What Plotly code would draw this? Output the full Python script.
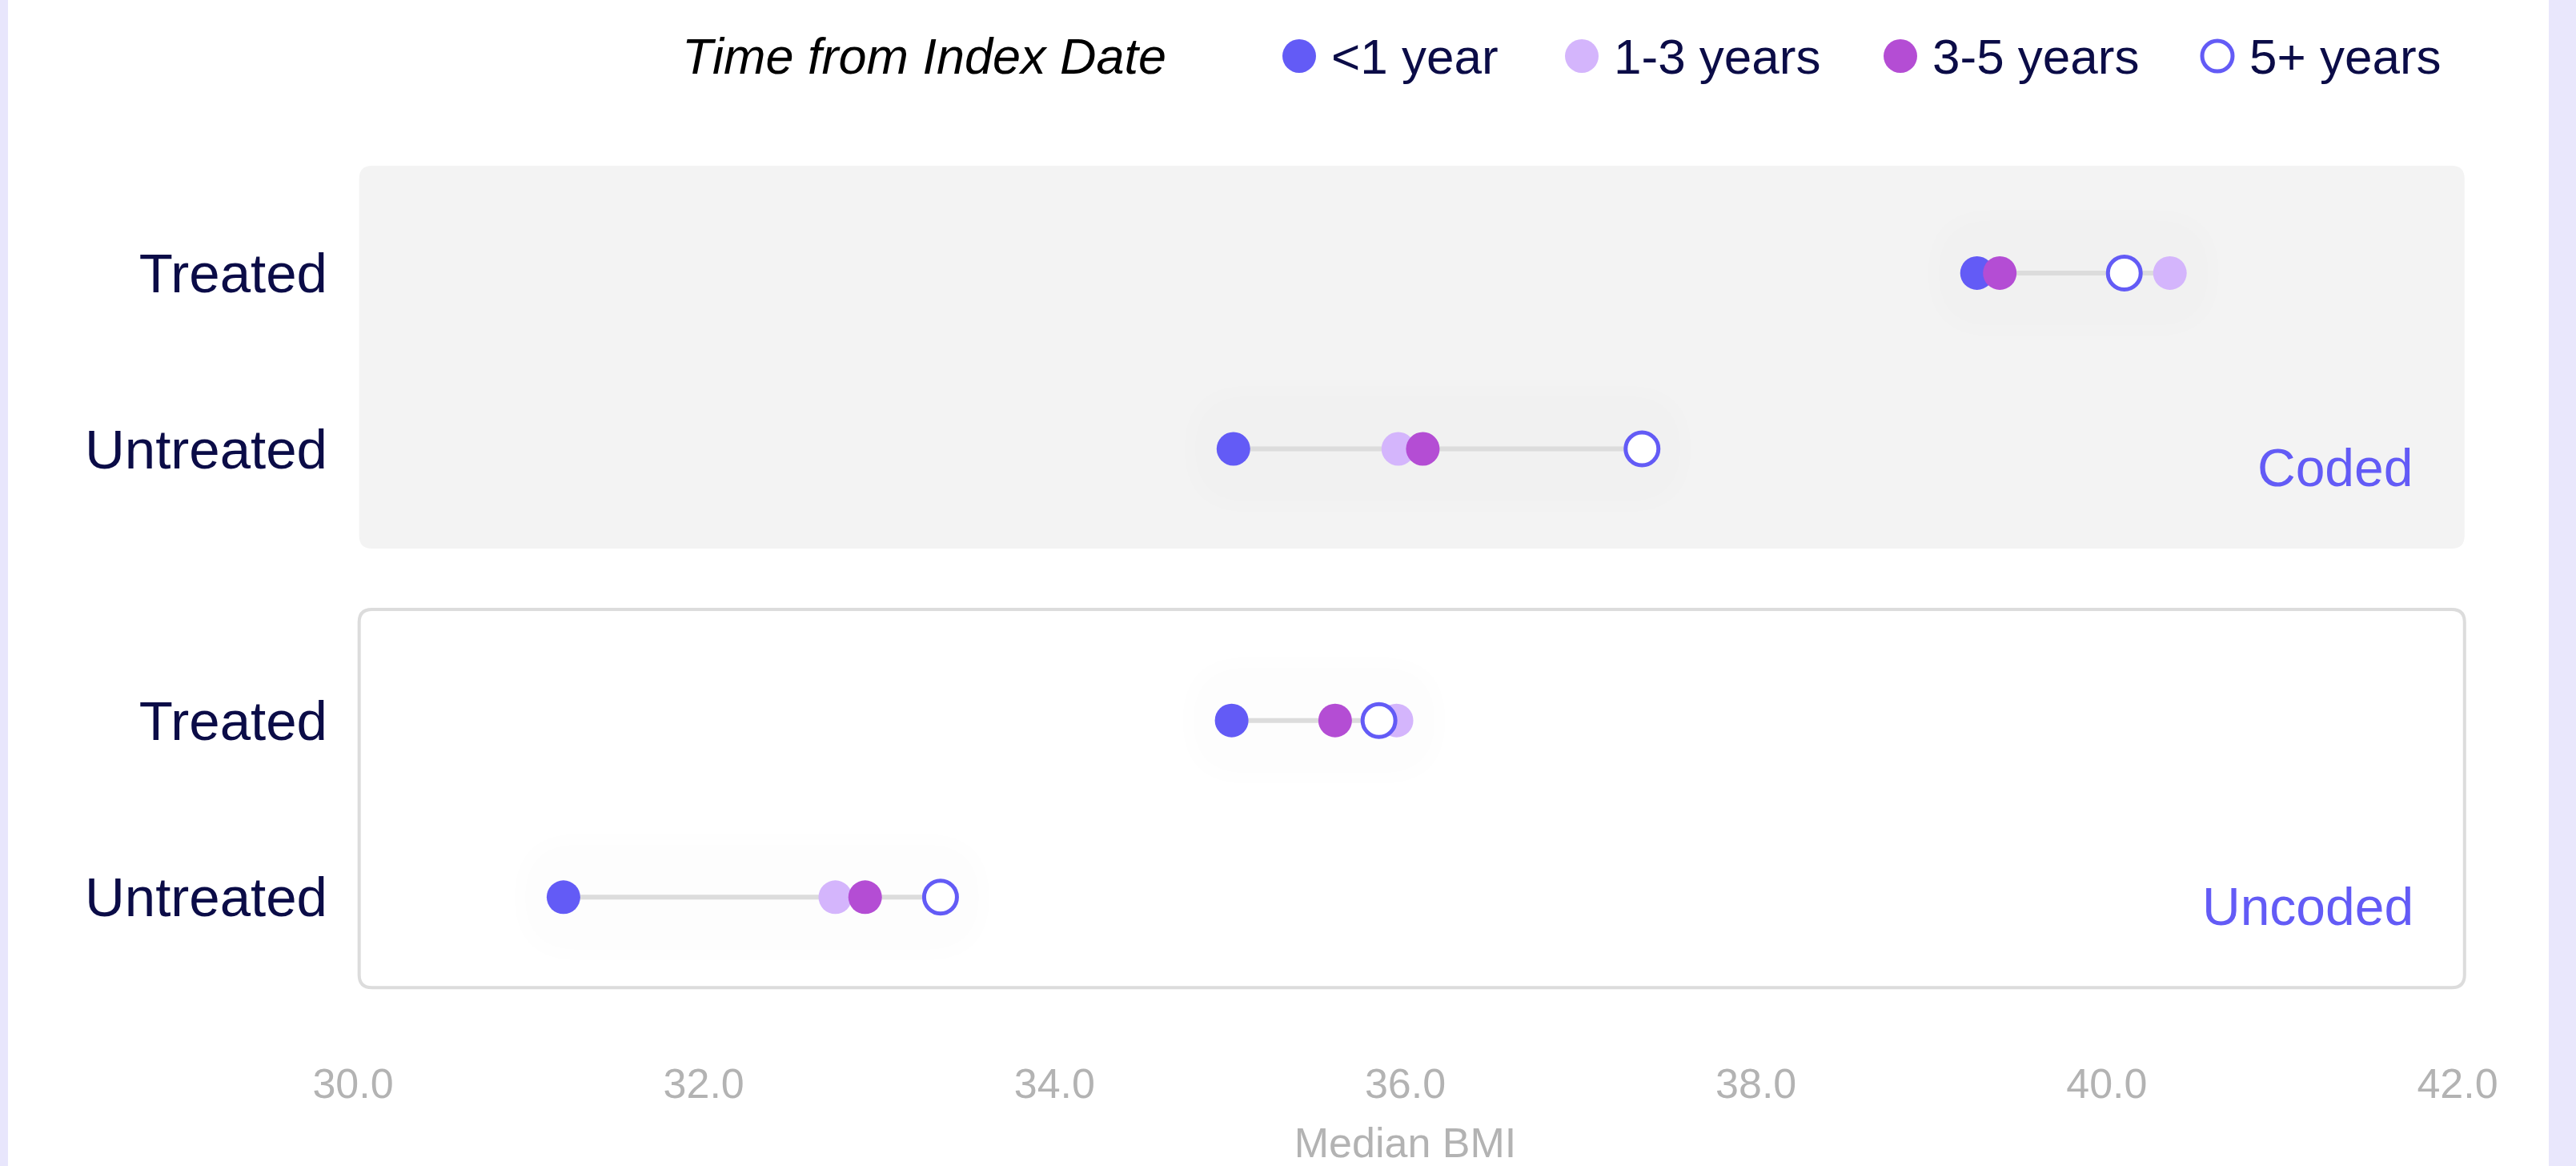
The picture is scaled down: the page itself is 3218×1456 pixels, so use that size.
import plotly.graph_objects as go

# ---------------- data ----------------
row_labels = ["Treated", "Untreated", "Treated", "Untreated"]
row_groups = ["Coded", "Coded", "Uncoded", "Uncoded"]
series_names = ["<1 year", "1-3 years", "3-5 years", "5+ years"]
lt1_year = [39.26, 35.02, 35.01, 31.20]
y1_3 = [40.36, 35.96, 35.95, 32.75]
y3_5 = [39.39, 36.10, 35.60, 32.92]
y5_plus = [40.10, 37.35, 35.85, 33.35]
series_values = [lt1_year, y1_3, y3_5, y5_plus]
x_tick_vals = [30, 32, 34, 36, 38, 40, 42]
x_tick_text = ["30.0", "32.0", "34.0", "36.0", "38.0", "40.0", "42.0"]
group_names = ["Coded", "Uncoded"]

# ---------------- styles / layout ----------------
W, H = 3218, 1456
L, R, T, B = 441, 148, 200, 166
row_pos = [0, 1.0, 2.545, 3.55]
x_range = [30, 42]
y_range = [4.323, -0.642]
series_colors = ["#635bf6", "#d4b5fc", "#b44dd4", "#ffffff"]
series_lines = ["#635bf6", "#d4b5fc", "#b44dd4", "#635bf6"]
NAVY = "#0b0c47"
FONT = "Liberation Sans, Arial, Helvetica, sans-serif"

fig = go.Figure()


def px2x(px):
    return (px - L) / (W - L - R)


def py2y(py):
    return (H - B - py) / (H - T - B)


def dx2p(x):
    return (x - x_range[0]) / (x_range[1] - x_range[0])


def dy2p(y):
    return (y_range[0] - y) / (y_range[0] - y_range[1])


def rounded_path(x0, x1, y0, y1, rx, ry):
    return (f"M {x0+rx},{y0} L {x1-rx},{y0} Q {x1},{y0} {x1},{y0+ry} "
            f"L {x1},{y1-ry} Q {x1},{y1} {x1-rx},{y1} L {x0+rx},{y1} "
            f"Q {x0},{y1} {x0},{y1-ry} L {x0},{y0+ry} Q {x0},{y0} {x0+rx},{y0} Z")


shapes = []
# panels (paper coords so they are not clipped at the axis ends)
panel_x = (30.035, 42.04)
panel_y = [(-0.61, 1.567), (1.913, 4.064)]
panel_fill = ["#f3f3f3", "#ffffff"]
panel_line = [dict(width=0), dict(color="#dcdcdc", width=4)]
rpx = 16
rxp = rpx / (W - L - R)
ryp = rpx / (H - T - B)
for (py0, py1), fc, ln in zip(panel_y, panel_fill, panel_line):
    shapes.append(dict(type="path", xref="paper", yref="paper", layer="below",
                       path=rounded_path(dx2p(panel_x[0]), dx2p(panel_x[1]),
                                         dy2p(py1), dy2p(py0), rxp, ryp),
                       fillcolor=fc, line=ln))

# faint glow pills around rows
for i, yp in enumerate(row_pos):
    vals = [s[i] for s in series_values]
    lo, hi = min(vals), max(vals)
    for pad, op in [(0.0, 0.004), (0.06, 0.004)]:
        shapes.append(dict(type="path", xref="x", yref="y", layer="below",
                           path=rounded_path(lo - 0.22 - pad, hi + 0.22 + pad,
                                             yp - 0.30 - pad, yp + 0.30 + pad,
                                             0.30 + pad, 0.30 + pad),
                           fillcolor=f"rgba(0,0,0,{op})", line=dict(width=0)))

# side lavender strips
shapes.append(dict(type="rect", xref="paper", yref="paper", x0=px2x(0), x1=px2x(10),
                   y0=py2y(H), y1=py2y(0), fillcolor="#e8e6fc", line=dict(width=0), layer="below"))
shapes.append(dict(type="rect", xref="paper", yref="paper", x0=px2x(3184), x1=px2x(W),
                   y0=py2y(H), y1=py2y(0), fillcolor="#e9e7fc", line=dict(width=0), layer="below"))

# connecting lines
for i, yp in enumerate(row_pos):
    vals = [s[i] for s in series_values]
    fig.add_trace(go.Scatter(x=[min(vals), max(vals)], y=[yp, yp], mode="lines",
                             line=dict(color="#dcdcdc", width=6), hoverinfo="skip",
                             showlegend=False))

# dots
for name, vals, fc, lc in zip(series_names, series_values, series_colors, series_lines):
    open_marker = fc == "#ffffff"
    fig.add_trace(go.Scatter(
        x=vals, y=row_pos, mode="markers", name=name, showlegend=False,
        marker=dict(size=41 if open_marker else 42, color=fc,
                    line=dict(color=lc, width=5 if open_marker else 0))))

# custom legend
annotations = []
legend_y = 70
annotations.append(dict(xref="paper", yref="paper", x=px2x(850), y=py2y(legend_y),
                        xanchor="left", yanchor="middle", showarrow=False,
                        text="<i>Time from Index Date</i>",
                        font=dict(family=FONT, size=63, color="#000000")))
legend_marker_px = [1623, 1976, 2374, 2770]
for name, fc, lc, mx in zip(series_names, series_colors, series_lines, legend_marker_px):
    open_marker = fc == "#ffffff"
    r = 19 if open_marker else 21
    shapes.append(dict(type="circle", xref="paper", yref="paper",
                       xsizemode="pixel", ysizemode="pixel",
                       xanchor=px2x(mx), yanchor=py2y(legend_y),
                       x0=-r, x1=r, y0=-r, y1=r, fillcolor=fc,
                       line=dict(color=lc, width=5 if open_marker else 0)))
    annotations.append(dict(xref="paper", yref="paper", x=px2x(mx + 38), y=py2y(legend_y),
                            xanchor="left", yanchor="middle", showarrow=False, text=name,
                            font=dict(family=FONT, size=62, color=NAVY)))

# group labels
for gname, (py0, py1) in zip(group_names, panel_y):
    annotations.append(dict(xref="x", yref="y", x=41.757, y=py1, xanchor="right",
                            yanchor="bottom", yshift=62, showarrow=False, text=gname,
                            font=dict(family=FONT, size=66, color="#635bf6")))

fig.update_layout(
    width=W, height=H,
    margin=dict(l=L, r=R, t=T, b=B, pad=0, autoexpand=False),
    paper_bgcolor="#ffffff", plot_bgcolor="rgba(0,0,0,0)",
    shapes=shapes, annotations=annotations,
    showlegend=False,
    font=dict(family=FONT),
)
fig.update_xaxes(range=x_range, tickvals=x_tick_vals, ticktext=x_tick_text,
                 automargin=False,
                 showgrid=False, zeroline=False, showline=False, ticks="",
                 ticklabelstandoff=28,
                 tickfont=dict(family=FONT, size=52, color="#b3b3b3"),
                 title=dict(text="Median BMI", standoff=38,
                            font=dict(family=FONT, size=52, color="#b3b3b3")))
fig.update_yaxes(range=y_range, tickvals=row_pos, ticktext=row_labels,
                 automargin=False,
                 showgrid=False, zeroline=False, showline=False, ticks="",
                 ticklabelstandoff=31,
                 tickfont=dict(family=FONT, size=69, color=NAVY))

fig.write_html("out.html", config={"displayModeBar": False},
               post_script="document.body.style.margin='0';document.body.style.overflow='hidden';")
